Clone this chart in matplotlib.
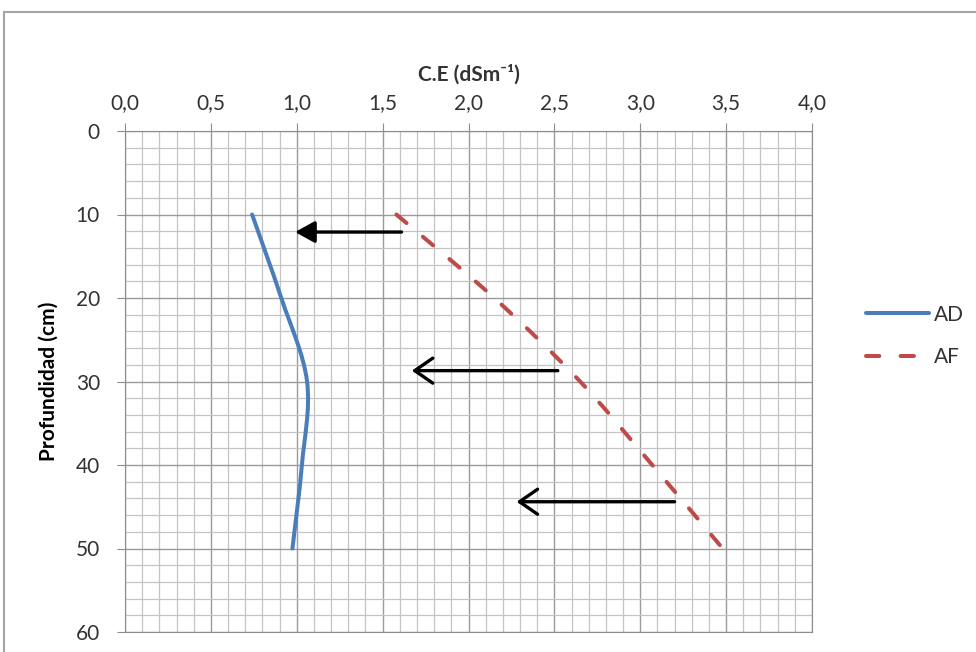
import numpy as np
import matplotlib
matplotlib.use("Agg")
import matplotlib.pyplot as plt
from matplotlib.path import Path
from matplotlib.patches import PathPatch, Rectangle
from matplotlib.lines import Line2D
from matplotlib.ticker import MultipleLocator, FuncFormatter

plt.rcParams['font.family'] = ['Lato', 'DejaVu Sans']

# data
depth = [10, 20, 30, 40, 50]
ce_ad = [0.74, 0.91, 1.06, 1.03, 0.975]
ce_af = [1.58, 2.15, 2.65, 3.07, 3.48]

# arrows: (x_tail, x_head, depth)
arrows_filled = [(1.61, 0.99, 12.1)]
arrows_open = [(2.52, 1.67, 28.7), (3.20, 2.28, 44.4)]

blue = '#4a7ebb'
red = '#be4b48'
txt = '#333333'
dash = (0, (3.3, 5.3))


def smooth_path(xs, ys):
    # excel-like smoothed line, bezier segments through the points
    p = np.column_stack([xs, ys]).astype(float)
    n = len(p)
    verts = [p[0]]
    codes = [Path.MOVETO]
    for i in range(n - 1):
        p0 = p[i - 1] if i > 0 else p[i]
        p3 = p[i + 2] if i + 2 < n else p[i + 1]
        c1 = p[i] + (p[i + 1] - p0) / 6
        c2 = p[i + 1] - (p3 - p[i]) / 6
        verts += [c1, c2, p[i + 1]]
        codes += [Path.CURVE4] * 3
    return Path(verts, codes)


fig = plt.figure(figsize=(9.76, 6.52), dpi=100)
ax = fig.add_axes([125 / 976, 1 - 632 / 652, 687 / 976, 501 / 652])

# outer frame
fig.patches.append(Rectangle((4 / 976, -0.05), 1.1, 1 - 12 / 652 + 0.05,
                             transform=fig.transFigure, fill=False,
                             edgecolor='#a6a6a6', lw=1.5))

ax.set_xlim(0, 4)
ax.set_ylim(60, 0)
ax.xaxis.tick_top()
ax.xaxis.set_label_position('top')
ax.xaxis.set_major_locator(MultipleLocator(0.5))
ax.xaxis.set_minor_locator(MultipleLocator(0.1))
ax.yaxis.set_major_locator(MultipleLocator(10))
ax.yaxis.set_minor_locator(MultipleLocator(2))
ax.xaxis.set_major_formatter(FuncFormatter(lambda v, p: f"{v:.1f}".replace('.', ',')))

ax.grid(which='major', color='#9a9a9a', lw=1.0)
ax.grid(which='minor', color='#c4c4c4', lw=0.9)
ax.set_axisbelow(True)
ax.tick_params(which='major', direction='out', length=6, color='#8c8c8c',
               labelsize=15, labelcolor=txt, pad=7)
ax.tick_params(axis='y', pad=12)
ax.tick_params(which='minor', length=0)
for s in ax.spines.values():
    s.set_color('#8c8c8c')

ax.set_xlabel('C.E (dSm⁻¹)', fontsize=15, fontweight='bold',
              color=txt, labelpad=9)
ax.set_ylabel('Profundidad (cm)', fontsize=15, fontweight='bold',
              color='black', labelpad=12)

ax.add_patch(PathPatch(smooth_path(ce_ad, depth), fill=False,
                       edgecolor=blue, lw=2.9, capstyle='round'))
ax.add_patch(PathPatch(smooth_path(ce_af, depth), fill=False,
                       edgecolor=red, lw=2.9, linestyle=dash,
                       capstyle='round'))

for x0, x1, y in arrows_filled:
    ax.annotate('', xy=(x1, y), xytext=(x0, y),
                arrowprops=dict(arrowstyle='-|>,head_length=0.6,head_width=0.33',
                                color='black', lw=2.4, mutation_scale=20,
                                shrinkA=0, shrinkB=0))
for x0, x1, y in arrows_open:
    ax.annotate('', xy=(x1, y), xytext=(x0, y),
                arrowprops=dict(arrowstyle='->,head_length=0.65,head_width=0.45',
                                color='black', lw=2.4, mutation_scale=20,
                                shrinkA=0, shrinkB=0))

handles = [Line2D([], [], color=blue, lw=2.9, solid_capstyle='round'),
           Line2D([], [], color=red, lw=2.9, linestyle=dash,
                  dash_capstyle='round')]
fig.legend(handles, ['AD', 'AF'], loc='center left',
           bbox_to_anchor=(866 / 976, 1 - 336 / 652), frameon=False,
           fontsize=15, labelcolor=txt, handlelength=3.0, handletextpad=0.25,
           labelspacing=1.1, borderpad=0, borderaxespad=0)

fig.savefig('out.png', dpi=100)
